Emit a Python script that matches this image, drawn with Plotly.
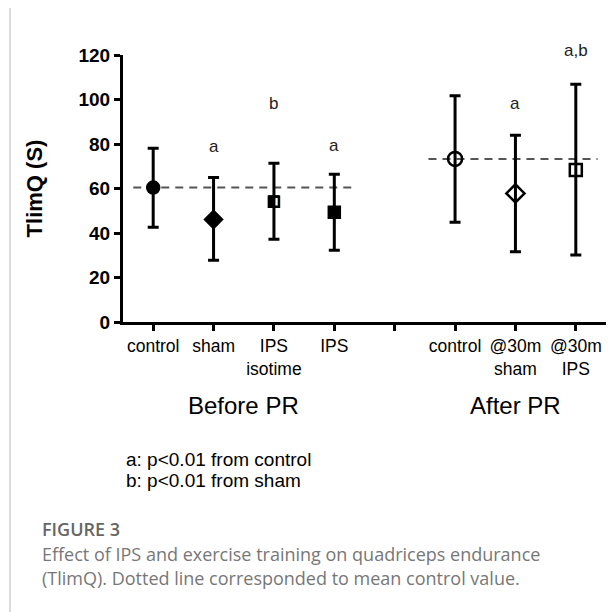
import plotly.graph_objects as go

# ---- data ----
positions = [1, 2, 3, 4, 6, 7, 8]
tick_positions = [1, 2, 3, 4, 5, 6, 7, 8]
tick_labels = ["control", "sham", "IPS<br>isotime", "IPS", "", "control", "@30m<br>sham", "@30m<br>IPS"]
means = [60.4, 46.1, 54.1, 49.3, 73.3, 57.8, 68.3]
upper = [78.1, 65.0, 71.3, 66.4, 101.7, 83.9, 106.8]
lower = [42.6, 27.7, 37.2, 32.2, 44.8, 31.6, 30.1]
symbols = ["circle", "diamond", "square-open", "square", "circle-open", "diamond-open", "square-open"]
sizes = [12, 13, 10, 11, 14, 14, 12]
sig_labels = ["", "a", "b", "a", "", "a", "a,b"]
sig_y = [0, 79, 98, 79.5, 0, 98, 122]
before_line_x = [0.67, 4.31]
after_line_x = [5.56, 8.36]
y_max = 120

font = "Liberation Sans, Arial, sans-serif"

# page has an 8px body margin: figure coordinates = page coordinates - 8
OFF = 8
W, H = 608, 604
ml, mr, mt, mb = 123 - OFF, W - (606 - OFF), 55 - OFF, H - (322 - OFF)


def px_to_paper(px, py):
    px -= OFF
    py -= OFF
    return (px - ml) / (W - ml - mr), (H - mb - py) / (H - mt - mb)


fig = go.Figure()

# dashed control-mean lines
for lx, val in [(before_line_x, means[0]), (after_line_x, means[4])]:
    fig.add_trace(go.Scatter(x=lx, y=[val] * 2, mode="lines",
                             line=dict(color="#555555", width=2, dash="8px,6px"),
                             hoverinfo="skip", showlegend=False, cliponaxis=False))

err_plus = [u - m for u, m in zip(upper, means)]
err_minus = [m - l for m, l in zip(means, lower)]

fig.add_trace(go.Scatter(
    x=positions, y=means, mode="markers",
    marker=dict(symbol=symbols, size=sizes, color="black", opacity=1,
                line=dict(color="black", width=2.5)),
    error_y=dict(type="data", array=err_plus, arrayminus=err_minus,
                 color="black", thickness=3, width=5.5),
    showlegend=False, cliponaxis=False))

# half-filled marker for IPS isotime (left half filled)
fig.add_trace(go.Scatter(
    x=[positions[2]], y=[means[2]], mode="text", text=["◧"],
    textfont=dict(size=15, color="black", family="DejaVu Sans"),
    textposition="middle center", showlegend=False, cliponaxis=False))

for xp, lab, yv in zip(positions, sig_labels, sig_y):
    if lab:
        fig.add_annotation(x=xp, y=yv / y_max, xref="x", yref="paper", text=lab, showarrow=False,
                           yanchor="middle", xanchor="center",
                           font=dict(family=font, size=17, color="#222222"))

_, yy = px_to_paper(0, 406)
fig.add_annotation(x=2.5, y=yy, xref="x", yref="paper", text="Before PR", showarrow=False,
                   yanchor="middle", xanchor="center",
                   font=dict(family=font, size=24, color="black"))
fig.add_annotation(x=7.0, y=yy, xref="x", yref="paper", text="After PR", showarrow=False,
                   yanchor="middle", xanchor="center",
                   font=dict(family=font, size=24, color="black"))

for txt, (px, py) in [("a: p<0.01 from control", (124, 459)), ("b: p<0.01 from sham", (124, 480))]:
    xx, yy = px_to_paper(px, py)
    fig.add_annotation(x=xx, y=yy, xref="paper", yref="paper", text=txt, showarrow=False,
                       xanchor="left", yanchor="middle",
                       font=dict(family=font, size=19, color="black"))

xx, yy = px_to_paper(40, 529)
fig.add_annotation(x=xx, y=yy, xref="paper", yref="paper", text="FIGURE 3", showarrow=False,
                   xanchor="left", yanchor="middle",
                   font=dict(family="Open Sans", size=18, color="#666666", weight=600))
for txt, py in [("Effect of IPS and exercise training on quadriceps endurance", 554),
                ("(TlimQ). Dotted line corresponded to mean control value.", 578)]:
    xx, yy = px_to_paper(40, py)
    fig.add_annotation(x=xx, y=yy, xref="paper", yref="paper", text=txt, showarrow=False,
                       xanchor="left", yanchor="middle",
                       font=dict(family="Open Sans", size=18, color="#777777"))

# frame lines of the figure panel
x0, y0 = px_to_paper(10, 7)
x1, _ = px_to_paper(640, 7)
_, y1 = px_to_paper(10, 640)
fig.add_shape(type="line", xref="paper", yref="paper", x0=x0, x1=x1, y0=y0, y1=y0,
              line=dict(color="#d0d0d0", width=1.5))
fig.add_shape(type="line", xref="paper", yref="paper", x0=x0, x1=x0, y0=y0, y1=y1,
              line=dict(color="#d0d0d0", width=1.5))

fig.update_layout(
    width=W, height=H,
    margin=dict(l=ml, r=mr, t=mt, b=mb),
    plot_bgcolor="white", paper_bgcolor="white",
    xaxis=dict(range=[0.5, 8.5], tickvals=tick_positions, ticktext=tick_labels,
               showline=True, linecolor="black", linewidth=3,
               ticks="outside", ticklen=6, tickwidth=2.5, tickcolor="black",
               tickfont=dict(family=font, size=17.5, color="black"),
               showgrid=False, zeroline=False),
    yaxis=dict(range=[0, y_max], tickvals=[0, 20, 40, 60, 80, 100, 120],
               showline=True, linecolor="black", linewidth=3,
               ticks="outside", ticklen=6, tickwidth=2.5, tickcolor="black",
               tickfont=dict(family=font, size=19, color="black", weight="bold"),
               title=dict(text="TlimQ (S)", font=dict(family=font, size=22, color="black", weight="bold"),
                          standoff=30),
               showgrid=False, zeroline=False),
)

fig.write_html("out.html")
